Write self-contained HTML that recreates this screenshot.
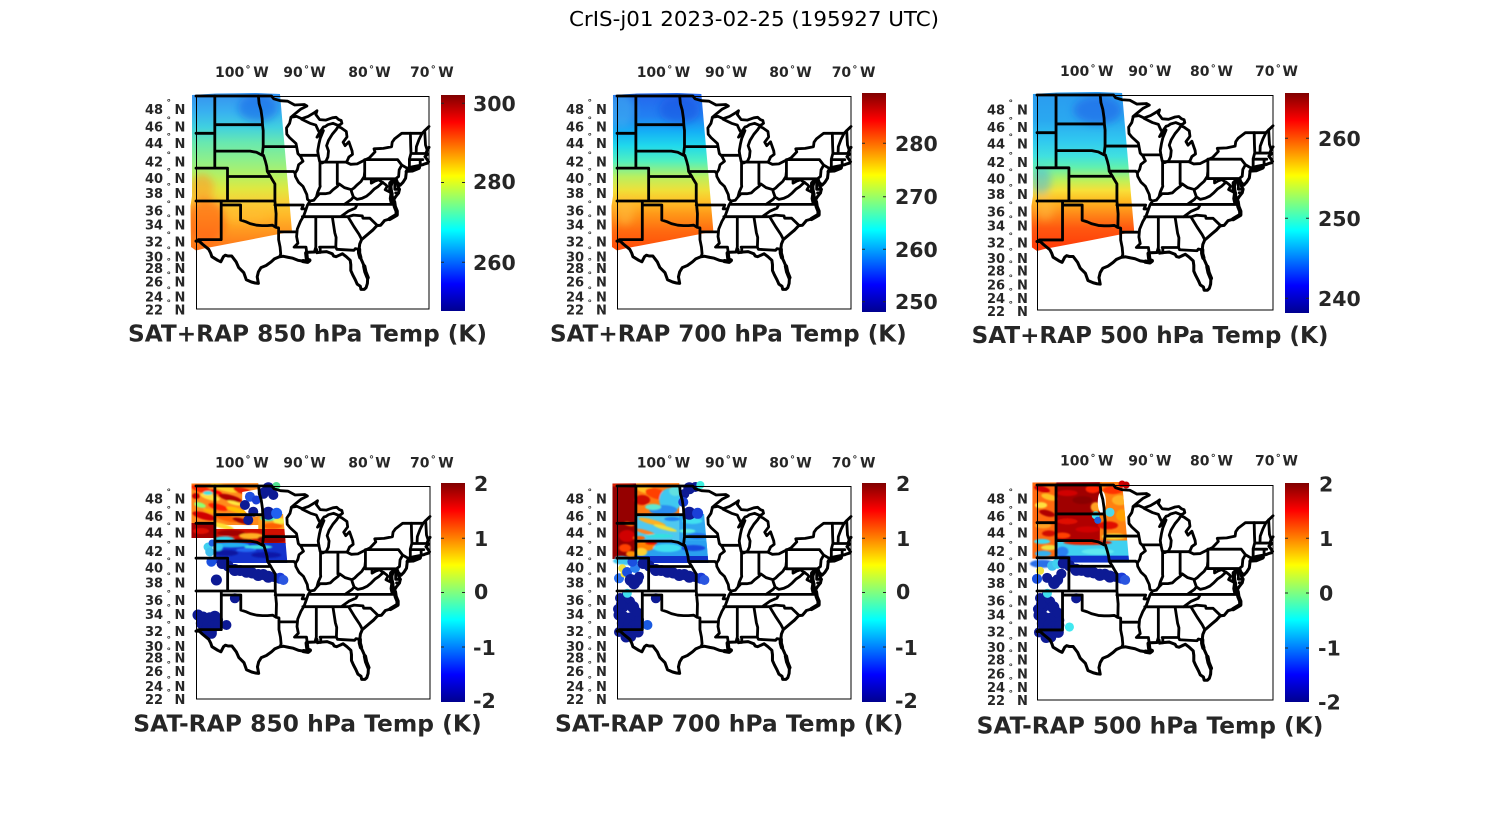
<!DOCTYPE html>
<html>
<head>
<meta charset="utf-8">
<style>
html,body{margin:0;padding:0;background:#fff;}
svg{display:block;}
.t{font-family:"DejaVu Sans","Liberation Sans",sans-serif;font-weight:bold;fill:#262626;}
.xt{font-size:14px;}
.yt{font-size:13px;}
.cb{font-size:20.5px;}
.ti{font-size:22.9px;}
</style>
</head>
<body>
<svg width="1500" height="825" viewBox="0 0 1500 825" xmlns="http://www.w3.org/2000/svg">
<defs>
<linearGradient id="jet" x1="0" y1="1" x2="0" y2="0">
<stop offset="0" stop-color="#00008f"/>
<stop offset="0.125" stop-color="#0000ff"/>
<stop offset="0.375" stop-color="#00ffff"/>
<stop offset="0.625" stop-color="#ffff00"/>
<stop offset="0.875" stop-color="#ff0000"/>
<stop offset="1" stop-color="#800000"/>
</linearGradient>
<linearGradient id="g1" gradientUnits="userSpaceOnUse" x1="0" y1="0" x2="0" y2="155">
<stop offset="0" stop-color="#3696f0"/>
<stop offset="0.1" stop-color="#38b0f0"/>
<stop offset="0.2" stop-color="#40d0e0"/>
<stop offset="0.3" stop-color="#68e8b0"/>
<stop offset="0.42" stop-color="#90f088"/>
<stop offset="0.52" stop-color="#b8f060"/>
<stop offset="0.6" stop-color="#e0e840"/>
<stop offset="0.68" stop-color="#f8d038"/>
<stop offset="0.77" stop-color="#ffb828"/>
<stop offset="0.87" stop-color="#ff9820"/>
<stop offset="1" stop-color="#ff7018"/>
</linearGradient>
<linearGradient id="g2" gradientUnits="userSpaceOnUse" x1="0" y1="0" x2="0" y2="155">
<stop offset="0" stop-color="#2468ee"/>
<stop offset="0.13" stop-color="#2280f2"/>
<stop offset="0.23" stop-color="#14b0f6"/>
<stop offset="0.32" stop-color="#20d8ec"/>
<stop offset="0.42" stop-color="#50f0c0"/>
<stop offset="0.52" stop-color="#b8f060"/>
<stop offset="0.61" stop-color="#f0e038"/>
<stop offset="0.68" stop-color="#ffc028"/>
<stop offset="0.76" stop-color="#ff9818"/>
<stop offset="0.87" stop-color="#ff6a10"/>
<stop offset="1" stop-color="#ff4a08"/>
</linearGradient>
<linearGradient id="g3" gradientUnits="userSpaceOnUse" x1="0" y1="0" x2="0" y2="155">
<stop offset="0" stop-color="#2a9cf0"/>
<stop offset="0.16" stop-color="#2aa8f0"/>
<stop offset="0.29" stop-color="#30c8f0"/>
<stop offset="0.39" stop-color="#40e0e0"/>
<stop offset="0.46" stop-color="#60f0b0"/>
<stop offset="0.55" stop-color="#c0f058"/>
<stop offset="0.61" stop-color="#f8e038"/>
<stop offset="0.68" stop-color="#ffb820"/>
<stop offset="0.76" stop-color="#ff8818"/>
<stop offset="0.85" stop-color="#ff5810"/>
<stop offset="1" stop-color="#ff3808"/>
</linearGradient>
<clipPath id="swc"><path d="M-4,-1 L20,-2.5 L60,-3 L84,-2 L96,135.5 L50,144.5 L8,152.5 L0,154.5 L-5,151 L-5.5,110 L-4,100 Z"/></clipPath>
<clipPath id="nsw"><path d="M-4.5,-2.5 L84,-3 L91,77 L19,77 L19,73 L-4.5,73 Z"/></clipPath>
<filter id="b4" filterUnits="userSpaceOnUse" x="-40" y="-40" width="200" height="240"><feGaussianBlur stdDeviation="4"/></filter>
<filter id="b1" filterUnits="userSpaceOnUse" x="-40" y="-40" width="200" height="240"><feGaussianBlur stdDeviation="0.9"/></filter>

<g id="stl" fill="none" stroke="#000" stroke-width="2.8" stroke-linejoin="round" stroke-linecap="round">
<path d="M0,0 L75.5,0 L77.7,2.8 L84.1,4.7 L91.7,5.2 L98.7,9.0 L108.3,8.5 L110.9,10.0 L104.5,13.3 L98.7,18.1 L94.9,21.3 L100.6,20.4 L105.7,22.7 L112.1,20.4 L118.5,16.6 L121.0,14.7 L119.8,18.5 L123.6,23.6 L129.9,24.1 L136.3,21.8 L140.1,21.3 L142.7,23.6 L145.2,24.5 L145.9,27.3 L144.0,28.7 L142.1,29.4 L137.0,27.3 L131.9,28.7 L129.3,30.5 L127.4,31.0 L123.6,36.4 L121.0,41.2 L123.6,39.0 L127.4,34.6 L124.2,42.5 L122.9,48.0 L121.7,55.0 L122.3,59.3 L123.6,65.3 L126.1,67.0 L129.9,65.3 L131.9,61.0 L132.5,55.0 L130.6,49.7 L132.5,44.4 L136.3,38.2 L140.1,33.7 L142.1,30.5 L145.2,31.9 L150.3,35.5 L151.0,40.9 L147.1,46.2 L149.1,49.7 L152.9,45.8 L156.1,55.0 L156.5,58.4 L152.9,61.0 L151.0,65.3 L150.0,66.1 L154.7,68.3 L161.2,67.9 L168.8,64.0 L173.3,61.9 L179.0,55.9 L178.0,52.8 L187.3,52.4 L195.6,50.7 L196.2,46.2 L198.7,42.7 L205.8,37.3 L226.1,37.3 L228.7,34.6 L230.6,32.8 L233,30.5"/>
<path stroke-width="3" d="M233,51.3 L231.2,54.3 L230.2,56.7 L231.8,58.0 L229.0,60.6 L231.2,63.6 L232.5,65.8 M231.8,67.0 L228.7,67.9 L226.8,68.7 L223.0,69.6 L216.6,70.8 L212.1,72.1 L210.2,75.5 L210.2,77.2 L209.6,82.2 L207.0,86.3 L204.2,89.2 L201.3,86.3 L200.3,83.4 L201.9,90.4 L203.5,93.3 L202.6,96.9 L199.4,101.0 L197.5,104.2 L196.2,100.1 L195.6,96.9 L194.9,90.4 L196.8,84.7 L194.3,87.2 L194.3,93.7 L195.6,97.7 L194.9,102.6 L195.6,105.8 L198.1,105.8 L198.8,110.5 L200.7,115.2 L200.7,118.8 L197.5,120.7 L193.6,123.0 L188.6,124.5 L184.7,129.2 L180.9,129.6 L177.1,133.8 L172.6,137.6 L168.2,141.4 L165.6,143.6 L163.7,148.1 L163.1,153.3 L163.1,157.0 L164.3,161.4 L166.3,165.8 L168.2,170.2 L169.4,175.9 L171.7,181.6 L171.4,187.4 L170.1,191.6 L168.2,193.4 L165.0,193.4 L164.3,190.2 L161.2,188.1 L159.3,183.8 L156.7,178.8 L154.8,174.5 L154.8,168.7 L154.2,164.3 L150.3,160.7 L146.5,157.8 L143.3,159.2 L140.1,160.7 L137.6,160.0 L136.3,157.8 L130.6,155.6 L125.5,156.0 L121.0,156.7 L120.4,153.3 L118.5,156.0 L112.1,156.3 L110.2,157.0 L110.8,162.2 L113.4,164.3 L111.5,165.8 L107.0,165.1 L101.9,164.3 L96.8,162.2 L92.4,161.4 L87.3,160.3 L83.4,160.7 L78.4,162.9 L75.2,165.8 L70.1,169.5 L65.0,171.6 L62.4,175.9 L61.2,180.9 L62.4,187.4 L59.2,187.0 L55.4,186.0 L50.3,183.8 L47.8,176.7 L42.7,171.6 L40.1,165.8 L35.7,160.0 L31.9,160.0 L29.3,159.2 L27.4,160.7 L24.8,165.8 L21.7,164.3 L15.9,160.7 L14.6,157.0 L12.7,153.3 L6.4,148.1 L3.2,145.1 L0,145.1"/>
<path stroke-width="4.2" d="M196.8,84.7 L194.3,87.2 L194.3,93.7 L195.6,97.7 L194.9,102.6 L195.6,105.8 L198.1,105.8 L198.8,110.5 L200.7,115.2 L200.7,118.8 L197.5,120.7 L193.6,123.0 M113.4,164.3 L111.5,165.8 L107.0,165.1 M110.2,157.0 L110.8,162.2 M163.1,153.3 L163.1,157.0 L164.3,161.4 M168.2,170.2 L169.4,175.9 L171.7,181.6"/>
<path d="M210.2,75.5 L216.6,75.1 L223.0,72.5 L223.6,71.7 L219.2,72.5 L212.8,72.9 Z"/>
<path d="M18.8,0 L18.8,72.1 M0,37.3 L18.8,37.3 M0,72.1 L31.5,72.1 L31.5,105 M0,105 L78.9,105 M25.2,105 L25.2,143.6 M2.4,143.6 L25.2,143.6 M25.2,109 L44.6,109 L44.6,124.1 L49.7,125.7 L54.1,127.6 L60.5,129.2 L66.2,129.6 L71.3,129.6 L76.4,129.2 L79.6,131.2 L82.6,131.9 L82.6,143.6 L84.1,151.1 L84.7,157.8 L83.8,160.7 M82.6,135.9 L101.0,135.9 M78.9,105 L80.1,117.8 L79.8,131.2 M78.9,105 L78.9,88.0 L76.4,83.9 L74.5,80.5 M31.5,80.5 L74.5,80.5 M74.5,80.5 L71.3,75.5 L70.7,70.4 L69.4,65.3 L67.5,59.3 L66.2,59.3 L60.5,56.3 L54.1,55.1 L18.8,55.0 M66.2,59.3 L67.2,50.6 L67.2,34.6 L66.5,28.7 L66.2,22.7 L65.0,14.3 L63.1,7.6 L62.4,0 M18.8,28.7 L66.5,28.7 M67.2,50.6 L100.6,50.6 M71.3,75.5 L97.5,75.5 L99.1,77.2 M100.6,50.6 L101.9,57.6 L104.5,60.2 L107.0,65.3 L102.6,68.7 L101.3,73.8 L99.1,77.2 L99.4,80.5 L102.6,86.3 L107.0,90.4 L110.8,98.5 L111.5,103.4 L114.0,105.2 L111.5,109.0 L110.2,112.9 L107.7,119.9 L104.5,125.3 L101.3,133.0 L101.0,136.1 L100.6,140.6 L101.9,147.3 L98.1,151.1 L110.0,151.1 L110.8,157.0 M94.9,21.8 L93.6,27.3 L90.5,31.9 L90.8,38.2 L93.6,41.6 L100.0,47.5 L100.6,50.6 M104.5,59.3 L122.3,59.3 M105.7,23.2 L114.0,27.3 L119.8,29.1 L122.3,34.6 L123.6,36.4 M124.0,66.1 L124.0,88.8 L124.2,90.4 L121.7,96.1 L120.4,101.0 M114.0,105.0 L117.8,104.2 L120.4,101.0 L123.6,97.7 L129.3,97.7 L133.8,96.9 L137.0,93.7 L141.4,90.4 L143.3,88.0 L148.4,91.6 L155.4,93.7 L158.0,92.0 L161.2,88.8 L165.0,85.5 L168.2,80.5 L168.7,75.5 M141.3,66.1 L141.3,88.0 M124.0,66.1 L150.0,66.1 M168.7,63.6 L168.7,82.8 M168.7,63.6 L201.6,63.6 L205.8,69.1 L203.2,73.8 L202.6,80.5 L200.3,82.2 M168.7,82.8 L198.8,82.8 L198.8,93.3 L203.5,93.3 M175.3,82.8 L175.3,87.1 L179.0,85.0 L182.8,83.8 L186.0,86.3 L186.6,86.3 M186.6,86.3 L182.2,90.4 L178.4,92.9 L174.5,96.9 L170.7,100.1 L166.3,102.2 L161.2,103.4 L157.4,101.0 L155.4,95.3 L155.4,93.7 M186.6,86.3 L189.8,88.8 L191.1,90.4 L189.2,93.7 L195.6,96.9 M112.1,108.4 L198.1,108.4 M148.4,108.4 L155.4,103.4 L157.4,101.0 M106.4,120.7 L152.2,120.7 M144.6,120.7 L152.2,115.2 L159.3,112.1 L161.2,108.4 M119.8,120.7 L119.8,151.1 L118.5,155.6 M136.3,120.7 L138.8,136.9 L140.1,141.4 L139.8,151.1 M123.6,151.1 L139.8,151.1 M124.2,151.1 L124.2,156.3 M139.8,151.1 L140.8,153.3 L158.0,154.3 L159.3,152.6 L162.4,153.3 M152.2,121.1 L158.0,130.7 L163.1,138.4 L165.6,143.2 M152.2,120.7 L157.4,119.1 L166.3,119.9 L166.9,122.2 L173.9,122.2 L181.5,129.6 M78.9,109.0 L107.3,109.0 L105.7,112.9 L110.2,112.9 M214.4,37.3 L214.7,49.7 L215.0,57.2 L213.4,63.2 L213.4,71.2 L212.1,72.1 M226.1,37.3 L223.0,43.6 L220.4,50.6 L220.1,57.3 M215.0,57.5 L230.6,57.5 M213.4,63.6 L226.8,63.6 M224.2,63.6 L224.2,69.6 M228.7,34.6 L229.5,48.9 L231.2,54.1 M205.8,69.1 L210.9,72.1 M199.7,96.9 L202.6,96.9"/>
</g>

<g id="ksd" fill="#0d1a94">
<circle cx="26" cy="77.5" r="5.5"/><circle cx="32" cy="80" r="5.5"/><circle cx="38.7" cy="84" r="6"/><circle cx="44" cy="84.5" r="5.5"/><circle cx="50.3" cy="85.7" r="6"/><circle cx="56" cy="87" r="5.5"/><circle cx="62" cy="89" r="6"/><circle cx="67" cy="88.5" r="5.5"/><circle cx="72" cy="90.7" r="6"/><circle cx="77" cy="91" r="5"/><circle cx="83.7" cy="92.3" r="5.5" fill="#1a3ad8"/><circle cx="87" cy="94" r="5" fill="#2a55e0"/><circle cx="20.3" cy="94" r="5.5"/><circle cx="38.7" cy="112.3" r="5"/>
<circle cx="2" cy="129" r="5.5"/><circle cx="7" cy="131" r="5.5"/><circle cx="13.7" cy="132.3" r="6"/><circle cx="18.7" cy="130.7" r="6"/><circle cx="22" cy="134" r="5"/><circle cx="5.3" cy="137.3" r="5.5"/><circle cx="12" cy="139" r="6"/><circle cx="17" cy="140.7" r="6"/><circle cx="22" cy="139" r="5"/><circle cx="10" cy="144" r="5.5"/><circle cx="15.3" cy="147.3" r="5.5"/>
</g>
<g id="nmx" fill="#0d1a94">
<circle cx="3" cy="112" r="5"/><circle cx="9" cy="110" r="5"/><circle cx="12" cy="116" r="6"/><circle cx="16" cy="121" r="6"/><circle cx="6" cy="121" r="5.5"/><circle cx="20" cy="126" r="5"/><circle cx="1" cy="123" r="5"/><circle cx="2" cy="146" r="5"/><circle cx="21" cy="146" r="5.5"/><circle cx="9" cy="151" r="5.5"/><circle cx="14" cy="151" r="5"/><circle cx="4" cy="118" r="5"/>
</g>
</defs>

<rect width="1500" height="825" fill="#fff"/>

<text x="569" y="26" font-family="'DejaVu Sans','Liberation Sans',sans-serif" font-size="20" fill="#000" textLength="370" lengthAdjust="spacingAndGlyphs">CrIS-j01 2023-02-25 (195927 UTC)</text>

<!-- ============ PANEL 1 ============ -->
<g transform="translate(196,96)">
<g clip-path="url(#swc)">
<rect x="-6" y="-4" width="104" height="162" fill="url(#g1)"/>
<g filter="url(#b4)">
<ellipse cx="62" cy="12" rx="20" ry="14" fill="#1a60e8" opacity="0.55"/>
<ellipse cx="6" cy="92" rx="12" ry="14" fill="#ff9a28" opacity="0.6"/>
<ellipse cx="10" cy="125" rx="20" ry="22" fill="#ff5a10" opacity="0.6"/>
<ellipse cx="50" cy="118" rx="22" ry="8" fill="#ffc030" opacity="0.5"/>
</g>
</g>
<use href="#stl"/>
</g>
<rect x="196.5" y="96.5" width="232.5" height="212.5" fill="none" stroke="#000" stroke-width="1"/>
<rect x="441" y="95" width="24" height="216" fill="url(#jet)"/>
<g stroke="#262626" stroke-width="1"><path d="M441,103.3h3M462,103.3h3M441,182.5h3M462,182.5h3M441,262.3h3M462,262.3h3"/></g>
<g class="t cb"><text x="473" y="110.8">300</text><text x="473" y="189.2">280</text><text x="473" y="269.8">260</text></g>
<text class="t ti" x="128" y="341.5" textLength="359" lengthAdjust="spacingAndGlyphs">SAT+RAP 850 hPa Temp (K)</text>
<g class="t xt" transform="translate(196,77)">
<text y="0"><tspan x="19">100</tspan><tspan x="49.5" y="-4.7" font-size="10">°</tspan><tspan x="57.3" y="0">W</tspan></text>
<text y="0"><tspan x="87.3">90</tspan><tspan x="108" y="-4.7" font-size="10">°</tspan><tspan x="114.3" y="0">W</tspan></text>
<text y="0"><tspan x="152.3">80</tspan><tspan x="173" y="-4.7" font-size="10">°</tspan><tspan x="179.3" y="0">W</tspan></text>
<text y="0"><tspan x="214">70</tspan><tspan x="234.7" y="-4.7" font-size="10">°</tspan><tspan x="242.3" y="0">W</tspan></text>
</g>
<g class="t yt" transform="translate(196,96)">
<text y="17.9"><tspan x="-51">48</tspan><tspan x="-29.5" dy="-8.5" font-size="9">°</tspan><tspan x="-21.5" dy="8.5">N</tspan></text>
<text y="35.3"><tspan x="-51">46</tspan><tspan x="-29.5" dy="-8.5" font-size="9">°</tspan><tspan x="-21.5" dy="8.5">N</tspan></text>
<text y="51.9"><tspan x="-51">44</tspan><tspan x="-29.5" dy="-8.5" font-size="9">°</tspan><tspan x="-21.5" dy="8.5">N</tspan></text>
<text y="70.3"><tspan x="-51">42</tspan><tspan x="-29.5" dy="-8.5" font-size="9">°</tspan><tspan x="-21.5" dy="8.5">N</tspan></text>
<text y="86.9"><tspan x="-51">40</tspan><tspan x="-29.5" dy="-8.5" font-size="9">°</tspan><tspan x="-21.5" dy="8.5">N</tspan></text>
<text y="101.9"><tspan x="-51">38</tspan><tspan x="-29.5" dy="-8.5" font-size="9">°</tspan><tspan x="-21.5" dy="8.5">N</tspan></text>
<text y="119.3"><tspan x="-51">36</tspan><tspan x="-29.5" dy="-8.5" font-size="9">°</tspan><tspan x="-21.5" dy="8.5">N</tspan></text>
<text y="133.3"><tspan x="-51">34</tspan><tspan x="-29.5" dy="-8.5" font-size="9">°</tspan><tspan x="-21.5" dy="8.5">N</tspan></text>
<text y="150.3"><tspan x="-51">32</tspan><tspan x="-29.5" dy="-8.5" font-size="9">°</tspan><tspan x="-21.5" dy="8.5">N</tspan></text>
<text y="165.3"><tspan x="-51">30</tspan><tspan x="-29.5" dy="-8.5" font-size="9">°</tspan><tspan x="-21.5" dy="8.5">N</tspan></text>
<text y="176.9"><tspan x="-51">28</tspan><tspan x="-29.5" dy="-8.5" font-size="9">°</tspan><tspan x="-21.5" dy="8.5">N</tspan></text>
<text y="190.3"><tspan x="-51">26</tspan><tspan x="-29.5" dy="-8.5" font-size="9">°</tspan><tspan x="-21.5" dy="8.5">N</tspan></text>
<text y="205.3"><tspan x="-51">24</tspan><tspan x="-29.5" dy="-8.5" font-size="9">°</tspan><tspan x="-21.5" dy="8.5">N</tspan></text>
<text y="218.6"><tspan x="-51">22</tspan><tspan x="-29.5" dy="-8.5" font-size="9">°</tspan><tspan x="-21.5" dy="8.5">N</tspan></text>
</g>

<!-- ============ PANEL 2 ============ -->
<g transform="translate(617,96) scale(1.0043,1)">
<g clip-path="url(#swc)">
<rect x="-6" y="-4" width="104" height="162" fill="url(#g2)"/>
<g filter="url(#b4)">
<ellipse cx="4" cy="14" rx="14" ry="18" fill="#40b0f0" opacity="0.6"/>
<ellipse cx="62" cy="14" rx="20" ry="14" fill="#1a50e0" opacity="0.5"/>
<ellipse cx="8" cy="115" rx="9" ry="14" fill="#ffc040" opacity="0.55"/>
</g>
</g>
<use href="#stl"/>
</g>
<rect x="617.5" y="96.5" width="233.5" height="212.5" fill="none" stroke="#000" stroke-width="1"/>
<rect x="862" y="93" width="24" height="219" fill="url(#jet)"/>
<g stroke="#262626" stroke-width="1"><path d="M862,143.3h3M883,143.3h3M862,196.7h3M883,196.7h3M862,249.3h3M883,249.3h3M862,301.7h3M883,301.7h3"/></g>
<g class="t cb"><text x="895" y="150.8">280</text><text x="895" y="204.2">270</text><text x="895" y="256.8">260</text><text x="895" y="309.2">250</text></g>
<text class="t ti" x="550" y="341.5" textLength="356.7" lengthAdjust="spacingAndGlyphs">SAT+RAP 700 hPa Temp (K)</text>
<g class="t xt" transform="translate(617,77)">
<text y="0"><tspan x="19.7">100</tspan><tspan x="50.2" y="-4.7" font-size="10">°</tspan><tspan x="57.8" y="0">W</tspan></text>
<text y="0"><tspan x="88">90</tspan><tspan x="108.7" y="-4.7" font-size="10">°</tspan><tspan x="115" y="0">W</tspan></text>
<text y="0"><tspan x="152.3">80</tspan><tspan x="173" y="-4.7" font-size="10">°</tspan><tspan x="179.3" y="0">W</tspan></text>
<text y="0"><tspan x="214.7">70</tspan><tspan x="235.4" y="-4.7" font-size="10">°</tspan><tspan x="243" y="0">W</tspan></text>
</g>
<g class="t yt" transform="translate(617,96)">
<text y="17.9"><tspan x="-51">48</tspan><tspan x="-29.5" dy="-8.5" font-size="9">°</tspan><tspan x="-21" dy="8.5">N</tspan></text>
<text y="35.3"><tspan x="-51">46</tspan><tspan x="-29.5" dy="-8.5" font-size="9">°</tspan><tspan x="-21" dy="8.5">N</tspan></text>
<text y="51.9"><tspan x="-51">44</tspan><tspan x="-29.5" dy="-8.5" font-size="9">°</tspan><tspan x="-21" dy="8.5">N</tspan></text>
<text y="70.3"><tspan x="-51">42</tspan><tspan x="-29.5" dy="-8.5" font-size="9">°</tspan><tspan x="-21" dy="8.5">N</tspan></text>
<text y="86.9"><tspan x="-51">40</tspan><tspan x="-29.5" dy="-8.5" font-size="9">°</tspan><tspan x="-21" dy="8.5">N</tspan></text>
<text y="101.9"><tspan x="-51">38</tspan><tspan x="-29.5" dy="-8.5" font-size="9">°</tspan><tspan x="-21" dy="8.5">N</tspan></text>
<text y="119.3"><tspan x="-51">36</tspan><tspan x="-29.5" dy="-8.5" font-size="9">°</tspan><tspan x="-21" dy="8.5">N</tspan></text>
<text y="133.3"><tspan x="-51">34</tspan><tspan x="-29.5" dy="-8.5" font-size="9">°</tspan><tspan x="-21" dy="8.5">N</tspan></text>
<text y="150.3"><tspan x="-51">32</tspan><tspan x="-29.5" dy="-8.5" font-size="9">°</tspan><tspan x="-21" dy="8.5">N</tspan></text>
<text y="165.3"><tspan x="-51">30</tspan><tspan x="-29.5" dy="-8.5" font-size="9">°</tspan><tspan x="-21" dy="8.5">N</tspan></text>
<text y="176.9"><tspan x="-51">28</tspan><tspan x="-29.5" dy="-8.5" font-size="9">°</tspan><tspan x="-21" dy="8.5">N</tspan></text>
<text y="190.3"><tspan x="-51">26</tspan><tspan x="-29.5" dy="-8.5" font-size="9">°</tspan><tspan x="-21" dy="8.5">N</tspan></text>
<text y="205.3"><tspan x="-51">24</tspan><tspan x="-29.5" dy="-8.5" font-size="9">°</tspan><tspan x="-21" dy="8.5">N</tspan></text>
<text y="218.6"><tspan x="-51">22</tspan><tspan x="-29.5" dy="-8.5" font-size="9">°</tspan><tspan x="-21" dy="8.5">N</tspan></text>
</g>

<!-- ============ PANEL 3 ============ -->
<g transform="translate(1037,95) scale(1.0129,1.0094)">
<g clip-path="url(#swc)">
<rect x="-6" y="-4" width="104" height="162" fill="url(#g3)"/>
<g filter="url(#b4)">
<ellipse cx="60" cy="15" rx="24" ry="14" fill="#2060e8" opacity="0.6"/>
<ellipse cx="4" cy="85" rx="10" ry="14" fill="#40b0f0" opacity="0.5"/>
<ellipse cx="8" cy="112" rx="9" ry="12" fill="#ffc040" opacity="0.5"/>
</g>
</g>
<use href="#stl"/>
</g>
<rect x="1037.5" y="95.5" width="235.5" height="214.5" fill="none" stroke="#000" stroke-width="1"/>
<rect x="1285" y="93" width="24" height="220" fill="url(#jet)"/>
<g stroke="#262626" stroke-width="1"><path d="M1285,138.3h3M1306,138.3h3M1285,218.3h3M1306,218.3h3M1285,298.3h3M1306,298.3h3"/></g>
<g class="t cb"><text x="1318" y="145.8">260</text><text x="1318" y="225.8">250</text><text x="1318" y="305.8">240</text></g>
<text class="t ti" x="971.7" y="343" textLength="356.7" lengthAdjust="spacingAndGlyphs">SAT+RAP 500 hPa Temp (K)</text>
<g class="t xt" transform="translate(1037,76)">
<text y="0"><tspan x="23">100</tspan><tspan x="53.5" y="-4.7" font-size="10">°</tspan><tspan x="61" y="0">W</tspan></text>
<text y="0"><tspan x="91.3">90</tspan><tspan x="112" y="-4.7" font-size="10">°</tspan><tspan x="119" y="0">W</tspan></text>
<text y="0"><tspan x="153">80</tspan><tspan x="173.7" y="-4.7" font-size="10">°</tspan><tspan x="180.5" y="0">W</tspan></text>
<text y="0"><tspan x="218">70</tspan><tspan x="238.7" y="-4.7" font-size="10">°</tspan><tspan x="245.5" y="0">W</tspan></text>
</g>
<g class="t yt" transform="translate(1038,96.5)">
<text y="17.9"><tspan x="-51">48</tspan><tspan x="-29.5" dy="-8.5" font-size="9">°</tspan><tspan x="-21" dy="8.5">N</tspan></text>
<text y="35.3"><tspan x="-51">46</tspan><tspan x="-29.5" dy="-8.5" font-size="9">°</tspan><tspan x="-21" dy="8.5">N</tspan></text>
<text y="51.9"><tspan x="-51">44</tspan><tspan x="-29.5" dy="-8.5" font-size="9">°</tspan><tspan x="-21" dy="8.5">N</tspan></text>
<text y="70.3"><tspan x="-51">42</tspan><tspan x="-29.5" dy="-8.5" font-size="9">°</tspan><tspan x="-21" dy="8.5">N</tspan></text>
<text y="86.9"><tspan x="-51">40</tspan><tspan x="-29.5" dy="-8.5" font-size="9">°</tspan><tspan x="-21" dy="8.5">N</tspan></text>
<text y="102.4"><tspan x="-51">38</tspan><tspan x="-29.5" dy="-8.5" font-size="9">°</tspan><tspan x="-21" dy="8.5">N</tspan></text>
<text y="119.8"><tspan x="-51">36</tspan><tspan x="-29.5" dy="-8.5" font-size="9">°</tspan><tspan x="-21" dy="8.5">N</tspan></text>
<text y="133.8"><tspan x="-51">34</tspan><tspan x="-29.5" dy="-8.5" font-size="9">°</tspan><tspan x="-21" dy="8.5">N</tspan></text>
<text y="150.8"><tspan x="-51">32</tspan><tspan x="-29.5" dy="-8.5" font-size="9">°</tspan><tspan x="-21" dy="8.5">N</tspan></text>
<text y="166.3"><tspan x="-51">30</tspan><tspan x="-29.5" dy="-8.5" font-size="9">°</tspan><tspan x="-21" dy="8.5">N</tspan></text>
<text y="178.9"><tspan x="-51">28</tspan><tspan x="-29.5" dy="-8.5" font-size="9">°</tspan><tspan x="-21" dy="8.5">N</tspan></text>
<text y="192.8"><tspan x="-51">26</tspan><tspan x="-29.5" dy="-8.5" font-size="9">°</tspan><tspan x="-21" dy="8.5">N</tspan></text>
<text y="206.3"><tspan x="-51">24</tspan><tspan x="-29.5" dy="-8.5" font-size="9">°</tspan><tspan x="-21" dy="8.5">N</tspan></text>
<text y="219.6"><tspan x="-51">22</tspan><tspan x="-29.5" dy="-8.5" font-size="9">°</tspan><tspan x="-21" dy="8.5">N</tspan></text>
</g>

<!-- ============ PANEL 4 ============ -->
<g transform="translate(196,486) scale(1.0043,1)">
<g clip-path="url(#nsw)">
<rect x="-5" y="-3" width="68" height="42" fill="#ff8a1c"/>
<g filter="url(#b1)">
<ellipse cx="5" cy="3" rx="10" ry="3.5" fill="#ff2a00" transform="rotate(15 5 3)"/>
<ellipse cx="28" cy="2" rx="14" ry="3" fill="#ffd428" transform="rotate(15 28 2)"/>
<ellipse cx="47" cy="5" rx="10" ry="3" fill="#e81a00" transform="rotate(15 47 5)"/>
<ellipse cx="14" cy="11" rx="10" ry="3" fill="#ffe040" transform="rotate(15 14 11)"/>
<ellipse cx="34" cy="12" rx="12" ry="3" fill="#b00000" transform="rotate(15 34 12)"/>
<ellipse cx="4" cy="19" rx="6" ry="2.5" fill="#90ff70" transform="rotate(15 4 19)"/>
<ellipse cx="22" cy="21" rx="10" ry="3" fill="#ff2000" transform="rotate(15 22 21)"/>
<ellipse cx="40" cy="24" rx="10" ry="2.5" fill="#ffc000" transform="rotate(15 40 24)"/>
<ellipse cx="8" cy="30" rx="12" ry="3.5" fill="#d00000" transform="rotate(15 8 30)"/>
<ellipse cx="30" cy="32" rx="12" ry="3" fill="#ff6000" transform="rotate(15 30 32)"/>
<ellipse cx="46" cy="35" rx="10" ry="2.5" fill="#a00000" transform="rotate(15 46 35)"/>
<ellipse cx="26" cy="40" rx="12" ry="2.5" fill="#ffe030" transform="rotate(15 26 40)"/>
<ellipse cx="12" cy="7" rx="5" ry="2" fill="#40e0e0"/>
<ellipse cx="20" cy="6" rx="6" ry="1.8" fill="#ff0000" transform="rotate(15 20 6)"/>
<ellipse cx="38" cy="17" rx="7" ry="1.8" fill="#ffe840" transform="rotate(15 38 17)"/>
<ellipse cx="14" cy="25" rx="7" ry="1.8" fill="#ffb000" transform="rotate(15 14 25)"/>
<ellipse cx="0" cy="10" rx="4" ry="3" fill="#c00000"/>
</g>
<path d="M46,6 L63,3 L63,30 L54,31 L46,22 Z" fill="#fff"/>
<rect x="62" y="-3" width="30" height="31" fill="#fff"/>
<rect x="62" y="28" width="30" height="16" fill="#ffa020"/>
<g filter="url(#b1)">
<ellipse cx="72" cy="32" rx="8" ry="3" fill="#40f0c0"/>
<ellipse cx="84" cy="35" rx="7" ry="3" fill="#f8f040"/>
<ellipse cx="76" cy="40" rx="10" ry="3" fill="#ff6000"/>
</g>
<rect x="-5" y="37" width="24" height="15" fill="#a40000"/>
<rect x="19" y="43" width="73" height="15" fill="#d01000"/>
<g filter="url(#b1)">
<ellipse cx="35" cy="47" rx="14" ry="3" fill="#a00000"/>
<ellipse cx="55" cy="50" rx="12" ry="3" fill="#ffb020"/>
<ellipse cx="28" cy="53" rx="10" ry="2.5" fill="#30d8f0"/>
<ellipse cx="45" cy="55" rx="12" ry="2.5" fill="#8a0000"/>
<ellipse cx="76" cy="53" rx="15" ry="4" fill="#9a0000"/>
<ellipse cx="5" cy="45" rx="8" ry="3" fill="#e01000"/>
</g>
<rect x="-5" y="52" width="24" height="25" fill="#fff"/>
<rect x="19" y="57" width="73" height="20" fill="#1432cc"/>
<g filter="url(#b1)">
<ellipse cx="35" cy="59" rx="18" ry="2.5" fill="#20b0f0"/>
<ellipse cx="62" cy="61" rx="14" ry="2" fill="#40e0e0"/>
<ellipse cx="30" cy="67" rx="12" ry="3" fill="#0a12a0"/>
<ellipse cx="70" cy="69" rx="15" ry="3" fill="#0818a8"/>
<ellipse cx="50" cy="64" rx="10" ry="2" fill="#2468f0"/>
<ellipse cx="22" cy="61" rx="5" ry="4" fill="#30c8f0"/>
</g>
</g>
<circle cx="12" cy="61" r="4.5" fill="#40d0f0"/><circle cx="13.7" cy="66" r="4.5" fill="#40c0f0"/><circle cx="16" cy="57" r="3.5" fill="#2060e0"/>
<circle cx="53.7" cy="10.7" r="5" fill="#2050e0"/><circle cx="48.7" cy="19" r="5" fill="#0d1a94"/><circle cx="57" cy="25.7" r="5" fill="#0d1a94"/><circle cx="52" cy="34" r="5" fill="#0d1a94"/><circle cx="60" cy="14" r="4.5" fill="#1a40d8"/>
<circle cx="72" cy="2.3" r="6" fill="#0d1a94"/><circle cx="67" cy="7.3" r="5.5" fill="#0d1a94"/><circle cx="77" cy="9" r="5" fill="#0d1a94"/><circle cx="80" cy="0" r="4" fill="#50e090"/><circle cx="72" cy="27.3" r="6.5" fill="#0d1a94"/><circle cx="80.3" cy="27.3" r="5.5" fill="#2060f0"/>
<circle cx="15.3" cy="75.7" r="5" fill="#1a50e0"/>
<use href="#ksd"/>
<circle cx="30.3" cy="139" r="5" fill="#0d1a94"/>
<use href="#stl"/>
</g>
<rect x="196.5" y="486.5" width="233.5" height="212.5" fill="none" stroke="#000" stroke-width="1"/>
<rect x="441" y="483" width="24" height="219" fill="url(#jet)"/>
<g stroke="#262626" stroke-width="1"><path d="M441,538.3h3M462,538.3h3M441,592.5h3M462,592.5h3M441,647h3M462,647h3"/></g>
<g class="t cb"><text x="474" y="490.8">2</text><text x="474" y="545.8">1</text><text x="474" y="599.2">0</text><text x="473" y="654.8">-1</text><text x="473" y="708.2">-2</text></g>
<text class="t ti" x="133.3" y="731.7" textLength="348.4" lengthAdjust="spacingAndGlyphs">SAT-RAP 850 hPa Temp (K)</text>
<g class="t xt" transform="translate(196,467.3)">
<text y="0"><tspan x="19">100</tspan><tspan x="49.5" y="-4.7" font-size="10">°</tspan><tspan x="57.3" y="0">W</tspan></text>
<text y="0"><tspan x="87.3">90</tspan><tspan x="108" y="-4.7" font-size="10">°</tspan><tspan x="114.3" y="0">W</tspan></text>
<text y="0"><tspan x="152.3">80</tspan><tspan x="173" y="-4.7" font-size="10">°</tspan><tspan x="179.3" y="0">W</tspan></text>
<text y="0"><tspan x="214">70</tspan><tspan x="234.7" y="-4.7" font-size="10">°</tspan><tspan x="242.3" y="0">W</tspan></text>
</g>
<g class="t yt" transform="translate(196,485.5)">
<text y="17.9"><tspan x="-51">48</tspan><tspan x="-29.5" dy="-8.5" font-size="9">°</tspan><tspan x="-21.5" dy="8.5">N</tspan></text>
<text y="35.3"><tspan x="-51">46</tspan><tspan x="-29.5" dy="-8.5" font-size="9">°</tspan><tspan x="-21.5" dy="8.5">N</tspan></text>
<text y="51.9"><tspan x="-51">44</tspan><tspan x="-29.5" dy="-8.5" font-size="9">°</tspan><tspan x="-21.5" dy="8.5">N</tspan></text>
<text y="70.3"><tspan x="-51">42</tspan><tspan x="-29.5" dy="-8.5" font-size="9">°</tspan><tspan x="-21.5" dy="8.5">N</tspan></text>
<text y="86.9"><tspan x="-51">40</tspan><tspan x="-29.5" dy="-8.5" font-size="9">°</tspan><tspan x="-21.5" dy="8.5">N</tspan></text>
<text y="101.9"><tspan x="-51">38</tspan><tspan x="-29.5" dy="-8.5" font-size="9">°</tspan><tspan x="-21.5" dy="8.5">N</tspan></text>
<text y="119.3"><tspan x="-51">36</tspan><tspan x="-29.5" dy="-8.5" font-size="9">°</tspan><tspan x="-21.5" dy="8.5">N</tspan></text>
<text y="133.3"><tspan x="-51">34</tspan><tspan x="-29.5" dy="-8.5" font-size="9">°</tspan><tspan x="-21.5" dy="8.5">N</tspan></text>
<text y="150.3"><tspan x="-51">32</tspan><tspan x="-29.5" dy="-8.5" font-size="9">°</tspan><tspan x="-21.5" dy="8.5">N</tspan></text>
<text y="165.3"><tspan x="-51">30</tspan><tspan x="-29.5" dy="-8.5" font-size="9">°</tspan><tspan x="-21.5" dy="8.5">N</tspan></text>
<text y="176.9"><tspan x="-51">28</tspan><tspan x="-29.5" dy="-8.5" font-size="9">°</tspan><tspan x="-21.5" dy="8.5">N</tspan></text>
<text y="190.3"><tspan x="-51">26</tspan><tspan x="-29.5" dy="-8.5" font-size="9">°</tspan><tspan x="-21.5" dy="8.5">N</tspan></text>
<text y="205.3"><tspan x="-51">24</tspan><tspan x="-29.5" dy="-8.5" font-size="9">°</tspan><tspan x="-21.5" dy="8.5">N</tspan></text>
<text y="218.6"><tspan x="-51">22</tspan><tspan x="-29.5" dy="-8.5" font-size="9">°</tspan><tspan x="-21.5" dy="8.5">N</tspan></text>
</g>

<!-- ============ PANEL 5 ============ -->
<g transform="translate(617,486) scale(1.0043,1)">
<g clip-path="url(#nsw)">
<rect x="-5" y="-3" width="24" height="80" fill="#950000"/>
<rect x="19" y="-3" width="45" height="32" fill="#ff7a10"/>
<rect x="19" y="28" width="47" height="28" fill="#50c8f0"/>
<rect x="62" y="-3" width="30" height="31" fill="#fff"/>
<rect x="62" y="28" width="30" height="49" fill="#30a8f0"/>
<rect x="19" y="55" width="73" height="22" fill="#2aa0f0"/>
<g filter="url(#b1)">
<ellipse cx="5" cy="-1" rx="12" ry="2" fill="#e02000"/>
<ellipse cx="10" cy="50" rx="8" ry="6" fill="#d00000"/>
<ellipse cx="8" cy="62" rx="6" ry="4" fill="#ff4000"/>
<ellipse cx="14" cy="68" rx="5" ry="3" fill="#ff9000"/>
<ellipse cx="4" cy="72" rx="6" ry="2" fill="#40d0f0"/>
<ellipse cx="12" cy="38" rx="5" ry="2" fill="#ff7000" transform="rotate(15 12 38)"/>
<ellipse cx="28" cy="3" rx="10" ry="4" fill="#ffc020" transform="rotate(15 28 3)"/>
<ellipse cx="40" cy="8" rx="12" ry="5" fill="#ff4000" transform="rotate(15 40 8)"/>
<ellipse cx="25" cy="14" rx="8" ry="5" fill="#d01000"/>
<ellipse cx="53" cy="14" rx="11" ry="12" fill="#40c8f0"/>
<ellipse cx="46" cy="24" rx="14" ry="5" fill="#2a8cf0"/>
<ellipse cx="58" cy="5" rx="6" ry="5" fill="#60e0e0"/>
<ellipse cx="36" cy="21" rx="8" ry="3" fill="#60e8d0"/>
<ellipse cx="35" cy="36" rx="14" ry="2.5" fill="#ffb020" transform="rotate(15 35 36)"/>
<ellipse cx="48" cy="42" rx="12" ry="2" fill="#f0e040" transform="rotate(15 48 42)"/>
<ellipse cx="28" cy="46" rx="10" ry="2" fill="#ff8020" transform="rotate(15 28 46)"/>
<ellipse cx="55" cy="33" rx="8" ry="2" fill="#2080f0"/>
<ellipse cx="42" cy="50" rx="14" ry="2" fill="#30e0e0"/>
<ellipse cx="22" cy="52" rx="6" ry="2" fill="#ff6000"/>
<ellipse cx="28" cy="60" rx="10" ry="5" fill="#ff8000"/>
<ellipse cx="24" cy="66" rx="6" ry="4" fill="#ffd030"/>
<ellipse cx="34" cy="57" rx="6" ry="2" fill="#e01000"/>
<ellipse cx="50" cy="62" rx="14" ry="4" fill="#40e0f0"/>
<ellipse cx="75" cy="35" rx="10" ry="3" fill="#40e0f0"/>
<ellipse cx="80" cy="50" rx="10" ry="3" fill="#2070f0"/>
<ellipse cx="70" cy="45" rx="8" ry="2" fill="#60f0e0"/>
<ellipse cx="76" cy="62" rx="12" ry="3" fill="#1848e0"/>
</g>
<rect x="19" y="70" width="73" height="7" fill="#1030c8"/>
</g>
<circle cx="72" cy="2.3" r="6" fill="#0d1a94"/><circle cx="78" cy="1" r="5" fill="#0d1a94"/><circle cx="67" cy="8" r="5" fill="#0d1a94"/><circle cx="66" cy="16" r="5" fill="#1a40d8"/><circle cx="72" cy="27.3" r="6.5" fill="#0d1a94"/><circle cx="80.3" cy="27.3" r="5.5" fill="#1a40d8"/><circle cx="83" cy="-1" r="4" fill="#40f0e0"/>
<g filter="url(#b1)">
<ellipse cx="10" cy="75" rx="14" ry="4" fill="#40c8f0"/>
</g>
<circle cx="5.3" cy="82.3" r="4" fill="#f0e040"/><circle cx="2" cy="92.3" r="5" fill="#2a70f0"/><circle cx="7" cy="88" r="3.5" fill="#f0e040"/><circle cx="10" cy="86" r="5" fill="#1a50e0"/><circle cx="18" cy="82" r="5" fill="#2a80f0"/><circle cx="13.7" cy="94" r="6" fill="#0d1a94"/><circle cx="17" cy="97.3" r="6" fill="#0d1a94"/><circle cx="22" cy="90.7" r="5" fill="#0d1a94"/>
<circle cx="15.3" cy="75.7" r="5" fill="#1a50e0"/>
<use href="#ksd"/>
<use href="#nmx"/>
<circle cx="10.3" cy="107.3" r="4.5" fill="#40e0f0"/>
<circle cx="30.3" cy="139" r="5" fill="#1a5ae0"/>
<use href="#stl"/>
</g>
<rect x="617.5" y="486.5" width="233.5" height="212.5" fill="none" stroke="#000" stroke-width="1"/>
<rect x="862" y="483" width="24" height="219" fill="url(#jet)"/>
<g stroke="#262626" stroke-width="1"><path d="M862,538.3h3M883,538.3h3M862,592.5h3M883,592.5h3M862,647h3M883,647h3"/></g>
<g class="t cb"><text x="896" y="490.8">2</text><text x="896" y="545.8">1</text><text x="896" y="599.2">0</text><text x="895" y="654.8">-1</text><text x="895" y="708.2">-2</text></g>
<text class="t ti" x="555" y="731.7" textLength="348.3" lengthAdjust="spacingAndGlyphs">SAT-RAP 700 hPa Temp (K)</text>
<g class="t xt" transform="translate(617,467.3)">
<text y="0"><tspan x="19.7">100</tspan><tspan x="50.2" y="-4.7" font-size="10">°</tspan><tspan x="57.8" y="0">W</tspan></text>
<text y="0"><tspan x="88">90</tspan><tspan x="108.7" y="-4.7" font-size="10">°</tspan><tspan x="115" y="0">W</tspan></text>
<text y="0"><tspan x="152.3">80</tspan><tspan x="173" y="-4.7" font-size="10">°</tspan><tspan x="179.3" y="0">W</tspan></text>
<text y="0"><tspan x="214.7">70</tspan><tspan x="235.4" y="-4.7" font-size="10">°</tspan><tspan x="243" y="0">W</tspan></text>
</g>
<g class="t yt" transform="translate(617,485.5)">
<text y="17.9"><tspan x="-51">48</tspan><tspan x="-29.5" dy="-8.5" font-size="9">°</tspan><tspan x="-21" dy="8.5">N</tspan></text>
<text y="35.3"><tspan x="-51">46</tspan><tspan x="-29.5" dy="-8.5" font-size="9">°</tspan><tspan x="-21" dy="8.5">N</tspan></text>
<text y="51.9"><tspan x="-51">44</tspan><tspan x="-29.5" dy="-8.5" font-size="9">°</tspan><tspan x="-21" dy="8.5">N</tspan></text>
<text y="70.3"><tspan x="-51">42</tspan><tspan x="-29.5" dy="-8.5" font-size="9">°</tspan><tspan x="-21" dy="8.5">N</tspan></text>
<text y="86.9"><tspan x="-51">40</tspan><tspan x="-29.5" dy="-8.5" font-size="9">°</tspan><tspan x="-21" dy="8.5">N</tspan></text>
<text y="101.9"><tspan x="-51">38</tspan><tspan x="-29.5" dy="-8.5" font-size="9">°</tspan><tspan x="-21" dy="8.5">N</tspan></text>
<text y="119.3"><tspan x="-51">36</tspan><tspan x="-29.5" dy="-8.5" font-size="9">°</tspan><tspan x="-21" dy="8.5">N</tspan></text>
<text y="133.3"><tspan x="-51">34</tspan><tspan x="-29.5" dy="-8.5" font-size="9">°</tspan><tspan x="-21" dy="8.5">N</tspan></text>
<text y="150.3"><tspan x="-51">32</tspan><tspan x="-29.5" dy="-8.5" font-size="9">°</tspan><tspan x="-21" dy="8.5">N</tspan></text>
<text y="165.3"><tspan x="-51">30</tspan><tspan x="-29.5" dy="-8.5" font-size="9">°</tspan><tspan x="-21" dy="8.5">N</tspan></text>
<text y="176.9"><tspan x="-51">28</tspan><tspan x="-29.5" dy="-8.5" font-size="9">°</tspan><tspan x="-21" dy="8.5">N</tspan></text>
<text y="190.3"><tspan x="-51">26</tspan><tspan x="-29.5" dy="-8.5" font-size="9">°</tspan><tspan x="-21" dy="8.5">N</tspan></text>
<text y="205.3"><tspan x="-51">24</tspan><tspan x="-29.5" dy="-8.5" font-size="9">°</tspan><tspan x="-21" dy="8.5">N</tspan></text>
<text y="218.6"><tspan x="-51">22</tspan><tspan x="-29.5" dy="-8.5" font-size="9">°</tspan><tspan x="-21" dy="8.5">N</tspan></text>
</g>

<!-- ============ PANEL 6 ============ -->
<g transform="translate(1037,485) scale(1.0129,1.0094)">
<g clip-path="url(#nsw)">
<rect x="-5" y="-3" width="24" height="80" fill="#ff6a10"/>
<rect x="19" y="-3" width="45" height="33" fill="#a00000"/>
<rect x="19" y="28" width="47" height="30" fill="#b00000"/>
<rect x="62" y="-3" width="30" height="58" fill="#ff8010"/>
<rect x="19" y="55" width="73" height="22" fill="#40d0f0"/>
<g filter="url(#b1)">
<ellipse cx="5" cy="4" rx="8" ry="3" fill="#d00000" transform="rotate(15 5 4)"/>
<ellipse cx="12" cy="12" rx="8" ry="3" fill="#ffc020" transform="rotate(15 12 12)"/>
<ellipse cx="4" cy="20" rx="6" ry="3" fill="#ffe040"/>
<ellipse cx="10" cy="28" rx="8" ry="3" fill="#b00000" transform="rotate(15 10 28)"/>
<ellipse cx="6" cy="40" rx="8" ry="3" fill="#ffa020"/>
<ellipse cx="12" cy="48" rx="7" ry="3" fill="#d01000"/>
<ellipse cx="5" cy="56" rx="8" ry="2.5" fill="#40d8f0"/>
<ellipse cx="12" cy="62" rx="8" ry="2.5" fill="#f0e040"/>
<ellipse cx="6" cy="68" rx="8" ry="3" fill="#30b0f0"/>
<ellipse cx="30" cy="8" rx="10" ry="3" fill="#d00000"/>
<ellipse cx="45" cy="15" rx="10" ry="4" fill="#8a0000"/>
<ellipse cx="55" cy="4" rx="7" ry="4" fill="#ff2000"/>
<ellipse cx="58" cy="22" rx="5" ry="5" fill="#ffa020"/>
<ellipse cx="30" cy="36" rx="10" ry="3" fill="#e01000"/>
<ellipse cx="50" cy="44" rx="12" ry="3" fill="#d00000"/>
<ellipse cx="25" cy="50" rx="8" ry="3" fill="#ff4000"/>
<ellipse cx="75" cy="5" rx="10" ry="4" fill="#ff3000"/>
<ellipse cx="82" cy="15" rx="8" ry="5" fill="#ffb020"/>
<ellipse cx="70" cy="40" rx="10" ry="4" fill="#e01000"/>
<ellipse cx="84" cy="30" rx="6" ry="6" fill="#ffa000"/>
<ellipse cx="76" cy="51" rx="12" ry="3" fill="#f8e040"/>
<ellipse cx="50" cy="57" rx="24" ry="2.5" fill="#e02000"/>
<ellipse cx="25" cy="66" rx="6" ry="5" fill="#2a80f0"/>
<ellipse cx="60" cy="66" rx="16" ry="3" fill="#60e8f0"/>
</g>
<ellipse cx="64" cy="17" rx="4" ry="11" fill="#fff"/>
<rect x="19" y="70" width="73" height="7" fill="#1030c8"/>
</g>
<circle cx="58" cy="30" r="4" fill="#40e0f0"/><circle cx="72" cy="27" r="4.5" fill="#50d8e8"/><circle cx="60" cy="35" r="3.5" fill="#1a60e0"/><circle cx="84" cy="-1" r="3.5" fill="#d00000"/><circle cx="88" cy="0" r="3.5" fill="#c00000"/>
<g filter="url(#b1)">
<ellipse cx="5" cy="78" rx="12" ry="4" fill="#2a70e8"/>
</g>
<circle cx="15" cy="80" r="5" fill="#40c0f0"/><circle cx="3" cy="85" r="4" fill="#f0e040"/><circle cx="0" cy="93" r="5" fill="#1a50e0"/><circle cx="10" cy="92" r="5" fill="#0d1a94"/><circle cx="17" cy="97" r="6" fill="#0d1a94"/><circle cx="24" cy="88" r="5" fill="#0d1a94"/><circle cx="20" cy="78" r="5" fill="#40d0f0"/>
<use href="#ksd"/>
<use href="#nmx"/>
<circle cx="10.3" cy="107.3" r="4.5" fill="#40e0f0"/>
<circle cx="32" cy="140.7" r="4.5" fill="#40e8f0"/>
<use href="#stl"/>
</g>
<rect x="1037.5" y="485.5" width="235.5" height="214.5" fill="none" stroke="#000" stroke-width="1"/>
<rect x="1285" y="483" width="24" height="219" fill="url(#jet)"/>
<g stroke="#262626" stroke-width="1"><path d="M1285,538.3h3M1306,538.3h3M1285,593h3M1306,593h3M1285,648h3M1306,648h3"/></g>
<g class="t cb"><text x="1319" y="491.5">2</text><text x="1319" y="545.8">1</text><text x="1319" y="600.5">0</text><text x="1318" y="655.5">-1</text><text x="1318" y="709.5">-2</text></g>
<text class="t ti" x="976.7" y="733.3" textLength="346.7" lengthAdjust="spacingAndGlyphs">SAT-RAP 500 hPa Temp (K)</text>
<g class="t xt" transform="translate(1037,465.5)">
<text y="0"><tspan x="23">100</tspan><tspan x="53.5" y="-4.7" font-size="10">°</tspan><tspan x="61" y="0">W</tspan></text>
<text y="0"><tspan x="91.3">90</tspan><tspan x="112" y="-4.7" font-size="10">°</tspan><tspan x="119" y="0">W</tspan></text>
<text y="0"><tspan x="153">80</tspan><tspan x="173.7" y="-4.7" font-size="10">°</tspan><tspan x="180.5" y="0">W</tspan></text>
<text y="0"><tspan x="218">70</tspan><tspan x="238.7" y="-4.7" font-size="10">°</tspan><tspan x="245.5" y="0">W</tspan></text>
</g>
<g class="t yt" transform="translate(1038,485.5)">
<text y="17.9"><tspan x="-51">48</tspan><tspan x="-29.5" dy="-8.5" font-size="9">°</tspan><tspan x="-21" dy="8.5">N</tspan></text>
<text y="35.3"><tspan x="-51">46</tspan><tspan x="-29.5" dy="-8.5" font-size="9">°</tspan><tspan x="-21" dy="8.5">N</tspan></text>
<text y="51.9"><tspan x="-51">44</tspan><tspan x="-29.5" dy="-8.5" font-size="9">°</tspan><tspan x="-21" dy="8.5">N</tspan></text>
<text y="70.3"><tspan x="-51">42</tspan><tspan x="-29.5" dy="-8.5" font-size="9">°</tspan><tspan x="-21" dy="8.5">N</tspan></text>
<text y="86.9"><tspan x="-51">40</tspan><tspan x="-29.5" dy="-8.5" font-size="9">°</tspan><tspan x="-21" dy="8.5">N</tspan></text>
<text y="102.4"><tspan x="-51">38</tspan><tspan x="-29.5" dy="-8.5" font-size="9">°</tspan><tspan x="-21" dy="8.5">N</tspan></text>
<text y="119.8"><tspan x="-51">36</tspan><tspan x="-29.5" dy="-8.5" font-size="9">°</tspan><tspan x="-21" dy="8.5">N</tspan></text>
<text y="133.8"><tspan x="-51">34</tspan><tspan x="-29.5" dy="-8.5" font-size="9">°</tspan><tspan x="-21" dy="8.5">N</tspan></text>
<text y="150.8"><tspan x="-51">32</tspan><tspan x="-29.5" dy="-8.5" font-size="9">°</tspan><tspan x="-21" dy="8.5">N</tspan></text>
<text y="166.3"><tspan x="-51">30</tspan><tspan x="-29.5" dy="-8.5" font-size="9">°</tspan><tspan x="-21" dy="8.5">N</tspan></text>
<text y="178.9"><tspan x="-51">28</tspan><tspan x="-29.5" dy="-8.5" font-size="9">°</tspan><tspan x="-21" dy="8.5">N</tspan></text>
<text y="192.8"><tspan x="-51">26</tspan><tspan x="-29.5" dy="-8.5" font-size="9">°</tspan><tspan x="-21" dy="8.5">N</tspan></text>
<text y="206.3"><tspan x="-51">24</tspan><tspan x="-29.5" dy="-8.5" font-size="9">°</tspan><tspan x="-21" dy="8.5">N</tspan></text>
<text y="219.6"><tspan x="-51">22</tspan><tspan x="-29.5" dy="-8.5" font-size="9">°</tspan><tspan x="-21" dy="8.5">N</tspan></text>
</g>
</svg>
</body>
</html>
